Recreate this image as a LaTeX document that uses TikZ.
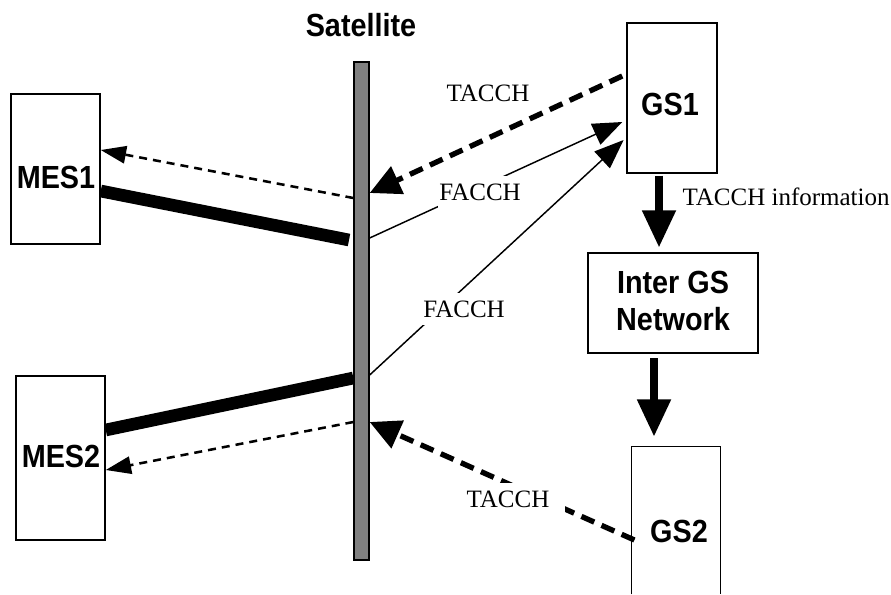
\documentclass[tikz,border=0pt]{standalone}
\usepackage{fontspec}
\setmainfont{Liberation Serif}
\setsansfont{Liberation Sans}
\usetikzlibrary{arrows.meta,fit}
\begin{document}
\begin{tikzpicture}[x=0.75pt,y=-0.75pt,
  box/.style={draw,line width=1.1pt,inner sep=0pt},
  blbl/.style={font=\sffamily\bfseries\fontsize{24}{28}\selectfont,inner sep=0pt,align=center},
  slbl/.style={font=\fontsize{18.75}{22}\selectfont,inner xsep=1pt,inner ysep=6pt,fill=white},
  thickline/.style={line width=9.5pt,line cap=butt},
  thindash/.style={line width=1.9pt,dash pattern=on 6pt off 4.5pt,-{Triangle[length=19pt,width=13pt]}},
  thickdash/.style={line width=4pt,dash pattern=on 10.5pt off 6pt,-{Triangle[length=23pt,width=22pt]}},
  thinarrow/.style={line width=1.1pt,-{Triangle[length=22pt,width=17pt]}},
  bigarrow/.style={line width=6pt,-{Triangle[length=28pt,width=24pt]}}]
\path[use as bounding box] (0,0) rectangle (891,594);

% boxes
\node[box,fit={(11,94) (100,244)}] (MES1) {};
\node[box,fit={(16,376) (105,540)}] (MES2) {};
\node[box,fit={(627,23) (717,173)}] (GS1) {};
\node[box,fit={(588,253) (758,353)}] (Inter) {};
\node[inner sep=0pt,fit={(632,447) (720,594)}] (GS2) {};
\draw[line width=1.1pt] (GS2.south west) |- (GS2.north east) -- (GS2.south east);
\node[draw,line width=1pt,fill=gray,inner sep=0pt,fit={(354,62) (369,560)}] (sat) {};

% box texts
\node[blbl] (tsat) at (361,25) {\scalebox{0.9}[1]{Satellite}};
\node[blbl] (tmes1) at (56,177) {\scalebox{0.9}[1]{MES1}};
\node[blbl] (tmes2) at (61,456) {\scalebox{0.9}[1]{MES2}};
\node[blbl] (tgs1) at (670,104) {\scalebox{0.9}[1]{GS1}};
\node[blbl] (tgs2) at (679,531) {\scalebox{0.9}[1]{GS2}};
\node[blbl] (tinter) at (673,301) {\scalebox{0.9}[1]{Inter GS}\\\scalebox{0.9}[1]{Network}};

% free ends
\coordinate (m1end) at (349,240);

% links to MES1
\draw[thickline] (MES1.east |- 0,191) -- (m1end);
\draw[thindash] (sat.west |- 0,198) -- (MES1.east |- 0,150);
% links to MES2
\draw[thickline] (MES2.east |- 0,430) -- (sat.west |- 0,378);
\draw[thindash] (sat.west |- 0,422) -- (MES2.east |- 0,470);

% GS1 links
\draw[thickdash] ([xshift=-3pt]GS1.west |- 0,76) -- (sat.east |- 0,193);
\draw[thinarrow] (sat.east |- 0,238) -- ([xshift=-3pt]GS1.west |- 0,122);
\draw[thinarrow] (sat.east |- 0,375) -- ([xshift=-2pt]GS1.west |- 0,140);
% GS2 link
\draw[thickdash] ([xshift=2pt]GS2.west |- 0,540) -- (sat.east |- 0,422);

% vertical arrows
\draw[bigarrow,shorten <=1.5pt,shorten >=3.5pt] (GS1.south -| 659,0) -- (Inter.north -| 659,0);
\draw[bigarrow,shorten <=3.5pt,shorten >=7.5pt] (Inter.south -| 654,0) -- (GS2.north -| 654,0);

% labels
\node[slbl] (l1) at (488,93) {TACCH};
\node[slbl] (l2) at (480,192) {FACCH};
\node[slbl] (l3) at (464,309) {FACCH};
\node[slbl,inner xsep=12pt] (l4) at (508,499) {TACCH};
\node[slbl,anchor=west,fill=none] (l5) at (681,197) {TACCH information};
\end{tikzpicture}
\end{document}
